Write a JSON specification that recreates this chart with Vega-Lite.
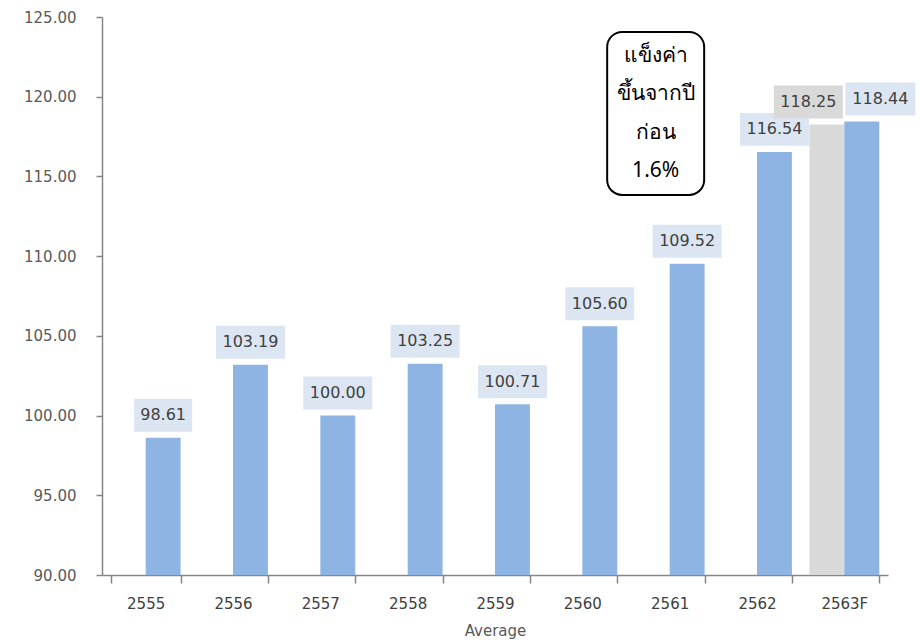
{
  "$schema": "https://vega.github.io/schema/vega-lite/v6.json",
  "width": 786,
  "height": 558,
  "autosize": {"type": "none"},
  "padding": {"left": 102, "top": 17, "right": 32, "bottom": 65},
  "background": "white",
  "config": {"view": {"stroke": null}, "font": "DejaVu Sans"},
  "datasets": {
    "rates": [
      {"year": "2555", "series": "blue", "value": 98.61},
      {"year": "2556", "series": "blue", "value": 103.19},
      {"year": "2557", "series": "blue", "value": 100.00},
      {"year": "2558", "series": "blue", "value": 103.25},
      {"year": "2559", "series": "blue", "value": 100.71},
      {"year": "2560", "series": "blue", "value": 105.60},
      {"year": "2561", "series": "blue", "value": 109.52},
      {"year": "2562", "series": "blue", "value": 116.54},
      {"year": "2563F", "series": "grey", "value": 118.25},
      {"year": "2563F", "series": "blue", "value": 118.44}
    ],
    "note": [
      {"year": "2561", "value": 118.95}
    ]
  },
  "data": {"name": "rates"},
  "layer": [
    {
      "mark": {"type": "bar"},
      "encoding": {
        "x": {
          "field": "year", "type": "nominal", "title": "Average",
          "scale": {"domain": ["2555","2556","2557","2558","2559","2560","2561","2562","2563F"], "paddingInner": 0.2, "paddingOuter": 0.1},
          "axis": {
            "labelAngle": 0, "labelFont": "DejaVu Sans", "labelFontSize": 15, "labelColor": "#404040",
            "tickBand": "extent", "tickSize": 8, "tickColor": "#868686", "tickWidth": 1.5,
            "domainColor": "#868686", "domainWidth": 1.5, "labelPadding": 13,
            "titleFont": "DejaVu Sans", "titleFontSize": 15, "titleFontWeight": "normal", "titleColor": "#595959", "titlePadding": 12
          }
        },
        "xOffset": {"field": "series", "type": "nominal", "scale": {"domain": ["grey", "blue"]}},
        "y": {
          "field": "value", "type": "quantitative", "title": null,
          "scale": {"domain": [90, 125], "nice": false, "zero": false},
          "axis": {
            "values": [90, 95, 100, 105, 110, 115, 120, 125], "format": ".2f", "grid": false,
            "labelFont": "DejaVu Sans", "labelFontSize": 15, "labelColor": "#595959", "labelPadding": 20,
            "tickSize": 6, "tickColor": "#868686", "tickWidth": 1.5,
            "domainColor": "#868686", "domainWidth": 1.5
          }
        },
        "y2": {"datum": 90},
        "color": {"field": "series", "type": "nominal", "legend": null, "scale": {"domain": ["grey", "blue"], "range": ["#d9d9d9", "#8eb4e3"]}}
      }
    },
    {
      "transform": [{"filter": "datum.year !== '2563F'"}],
      "mark": {"type": "point", "filled": true, "opacity": 1, "yOffset": -22.5, "fill": "#dce6f2", "strokeWidth": 0},
      "encoding": {
        "x": {"field": "year", "type": "nominal"},
        "xOffset": {"field": "series", "type": "nominal"},
        "y": {"field": "value", "type": "quantitative"},
        "shape": {"condition": {"test": "datum.value < 100", "value": "M-1,-0.569H1V0.569H-1Z"}, "value": "M-1,-0.478H1V0.478H-1Z"},
        "size": {"condition": {"test": "datum.value < 100", "value": 3364}, "value": 4761}
      }
    },
    {
      "transform": [{"filter": "datum.year !== '2563F'"}],
      "mark": {"type": "text", "yOffset": -22.5, "align": "center", "baseline": "middle", "font": "DejaVu Sans", "fontSize": 16, "color": "#404040"},
      "encoding": {
        "x": {"field": "year", "type": "nominal"},
        "xOffset": {"field": "series", "type": "nominal"},
        "y": {"field": "value", "type": "quantitative"},
        "text": {"field": "value", "type": "quantitative", "format": ".2f"}
      }
    },
    {
      "transform": [{"filter": "datum.year === '2563F' && datum.series === 'grey'"}],
      "mark": {"type": "point", "filled": true, "opacity": 1, "xOffset": -36, "yOffset": -22.5, "fill": "#d9d9d9", "strokeWidth": 0, "shape": "M-1,-0.478H1V0.478H-1Z", "size": 4761},
      "encoding": {
        "x": {"field": "year", "type": "nominal"},
        "y": {"field": "value", "type": "quantitative"}
      }
    },
    {
      "transform": [{"filter": "datum.year === '2563F' && datum.series === 'grey'"}],
      "mark": {"type": "text", "xOffset": -36, "yOffset": -22.5, "align": "center", "baseline": "middle", "font": "DejaVu Sans", "fontSize": 16, "color": "#404040"},
      "encoding": {
        "x": {"field": "year", "type": "nominal"},
        "y": {"field": "value", "type": "quantitative"},
        "text": {"field": "value", "type": "quantitative", "format": ".2f"}
      }
    },
    {
      "transform": [{"filter": "datum.year === '2563F' && datum.series === 'blue'"}],
      "mark": {"type": "point", "filled": true, "opacity": 1, "xOffset": 36, "yOffset": -22.5, "fill": "#dce6f2", "strokeWidth": 0, "shape": "M-1,-0.471H1V0.471H-1Z", "size": 4900},
      "encoding": {
        "x": {"field": "year", "type": "nominal"},
        "y": {"field": "value", "type": "quantitative"}
      }
    },
    {
      "transform": [{"filter": "datum.year === '2563F' && datum.series === 'blue'"}],
      "mark": {"type": "text", "xOffset": 36, "yOffset": -22.5, "align": "center", "baseline": "middle", "font": "DejaVu Sans", "fontSize": 16, "color": "#404040"},
      "encoding": {
        "x": {"field": "year", "type": "nominal"},
        "y": {"field": "value", "type": "quantitative"},
        "text": {"field": "value", "type": "quantitative", "format": ".2f"}
      }
    },
    {
      "data": {"name": "note"},
      "mark": {"type": "point", "filled": false, "opacity": 1, "xOffset": -14, "fill": "white", "fillOpacity": 1, "stroke": "black", "strokeWidth": 2,
        "shape": "M-0.411,-1H0.411A0.184,0.184 0 0 1 0.595,-0.816V0.816A0.184,0.184 0 0 1 0.411,1H-0.411A0.184,0.184 0 0 1 -0.595,0.816V-0.816A0.184,0.184 0 0 1 -0.411,-1Z",
        "size": 26569},
      "encoding": {
        "x": {"field": "year", "type": "nominal"},
        "y": {"field": "value", "type": "quantitative"}
      }
    },
    {
      "data": {"name": "note"},
      "mark": {"type": "text", "xOffset": -14, "yOffset": -57.75, "align": "center", "baseline": "middle", "lineHeight": 38.5, "font": "Noto Sans, sans-serif", "fontSize": 21, "color": "#000000",
        "text": ["แข็งค่า", "ขึ้นจากปี", "ก่อน", "1.6%"]},
      "encoding": {
        "x": {"field": "year", "type": "nominal"},
        "y": {"field": "value", "type": "quantitative"}
      }
    }
  ]
}
